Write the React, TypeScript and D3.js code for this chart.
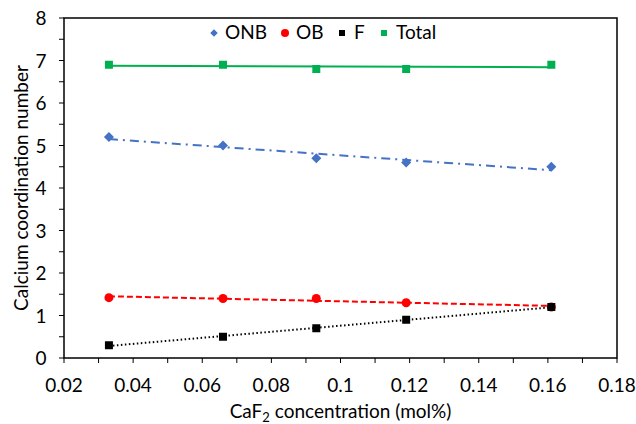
import React from "react";
import * as d3 from "d3";

const xValues = [0.033, 0.066, 0.093, 0.119, 0.161];
const onb = [5.2, 5.0, 4.7, 4.6, 4.5];
const ob = [1.42, 1.4, 1.4, 1.3, 1.2];
const fVals = [0.3, 0.5, 0.7, 0.9, 1.2];
const total = [6.9, 6.9, 6.8, 6.8, 6.9];
const xTicks = [0.02, 0.04, 0.06, 0.08, 0.1, 0.12, 0.14, 0.16, 0.18];
const yTicks = [0, 1, 2, 3, 4, 5, 6, 7, 8];

const W = 636, H = 424;
const m = { left: 64, right: 19, top: 18, bottom: 66 };
const FONT = "Lato, 'Open Sans', sans-serif";

function fit(xs: number[], ys: number[]) {
  const n = xs.length;
  const mx = d3.mean(xs)!, my = d3.mean(ys)!;
  let sxy = 0, sxx = 0;
  for (let i = 0; i < n; i++) { sxy += (xs[i] - mx) * (ys[i] - my); sxx += (xs[i] - mx) ** 2; }
  const b = sxy / sxx; const a = my - b * mx;
  return (x: number) => a + b * x;
}

export default function App() {
  const x = d3.scaleLinear().domain([0.02, 0.18]).range([m.left, W - m.right]);
  const y = d3.scaleLinear().domain([0, 8]).range([H - m.bottom, m.top]);
  const series = [
    { name: "ONB", vals: onb, color: "#4472C4", dash: "9,5,2,5", shape: "diamond" },
    { name: "OB", vals: ob, color: "#FF0000", dash: "6,3", shape: "circle" },
    { name: "F", vals: fVals, color: "#000000", dash: "1.5,2.5", shape: "square" },
    { name: "Total", vals: total, color: "#00B050", dash: "", shape: "square" },
  ];
  const x0 = xValues[0], x1 = xValues[xValues.length - 1];
  const marker = (shape: string, cx: number, cy: number, color: string, s: number) => {
    if (shape === "circle") return <circle cx={cx} cy={cy} r={s / 2} fill={color} />;
    if (shape === "diamond") return <path d={d3.symbol(d3.symbolDiamond2, s * s)()!} transform={`translate(${cx},${cy})`} fill={color} />;
    return <rect x={cx - s / 2} y={cy - s / 2} width={s} height={s} fill={color} />;
  };
  const minorX = d3.range(0.02, 0.1801, 0.01);
  const minorY = d3.range(0, 8.01, 0.5);
  const legendPos = [
    { mx: 214, tx: 225 },
    { mx: 285, tx: 296 },
    { mx: 342, tx: 354 },
    { mx: 384, tx: 396 },
  ];
  const FS = 19;
  return (
    <svg width={W} height={H} style={{ position: "absolute", left: 0, top: 0 }} fontFamily={FONT}>
      <rect width={W} height={H} fill="#fff" />
      <rect x={m.left} y={m.top} width={W - m.left - m.right} height={H - m.top - m.bottom} fill="none" stroke="#000" strokeWidth={1.5} />
      {minorX.map((v, i) => (
        <line key={"mx" + i} x1={x(v)} x2={x(v)} y1={y(0)} y2={y(0) + 5} stroke="#000" strokeWidth={1} />
      ))}
      {minorY.map((v, i) => (
        <line key={"my" + i} x1={m.left - 5} x2={m.left} y1={y(v)} y2={y(v)} stroke="#000" strokeWidth={1} />
      ))}
      {xTicks.map((v) => (
        <text key={"xt" + v} x={x(v)} y={y(0) + 34} textAnchor="middle" fontSize={FS} fill="#000">{String(v)}</text>
      ))}
      {yTicks.map((v) => (
        <text key={"yt" + v} x={m.left - 23} y={y(v) + 7} textAnchor="middle" fontSize={FS} fill="#000">{String(v)}</text>
      ))}
      <text x={(m.left + W - m.right) / 2} y={418} textAnchor="middle" fontSize={FS} fill="#000">
        CaF<tspan dy={4} fontSize={13}>2</tspan><tspan dy={-4}> concentration (mol%)</tspan>
      </text>
      <text transform={`translate(28,${(m.top + H - m.bottom) / 2}) rotate(-90)`} textAnchor="middle" fontSize={FS} fill="#000">
        Calcium coordination number
      </text>
      {series.map((s) => {
        const f = fit(xValues, s.vals);
        return (
          <g key={s.name}>
            <line x1={x(x0)} y1={y(f(x0))} x2={x(x1)} y2={y(f(x1))} stroke={s.color} strokeWidth={2} strokeDasharray={s.dash || undefined} />
            {xValues.map((xv, i) => (
              <g key={i}>{marker(s.shape, x(xv), y(s.vals[i]), s.color, s.shape === "circle" ? 9 : 8)}</g>
            ))}
          </g>
        );
      })}
      {series.map((s, i) => (
        <g key={"lg" + s.name}>
          {marker(s.shape, legendPos[i].mx, 33, s.color, s.shape === "circle" ? 8 : 6)}
          <text x={legendPos[i].tx} y={39} fontSize={FS} fill="#000">{s.name}</text>
        </g>
      ))}
    </svg>
  );
}
